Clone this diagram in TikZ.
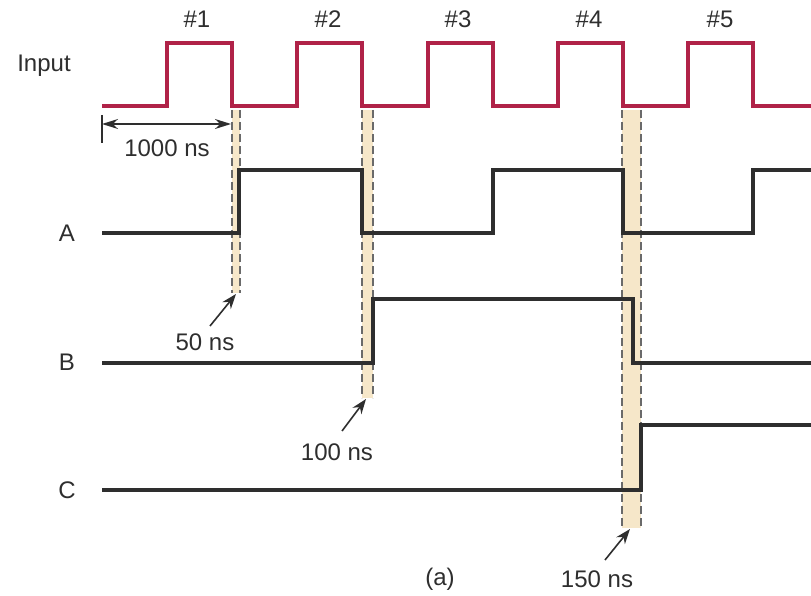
\documentclass[tikz,border=0pt]{standalone}
\usepackage{fontspec}
\setmainfont{Liberation Sans}
\usetikzlibrary{arrows.meta}
\definecolor{inred}{HTML}{B02248}
\definecolor{band}{HTML}{F6E7C9}
\definecolor{wave}{HTML}{2E2E2E}
\definecolor{dash}{HTML}{6A6A6A}
\begin{document}
\begin{tikzpicture}[x=1pt,y=-1pt,
  lbl/.style={font=\fontsize{24}{26}\selectfont, text=wave, inner sep=0pt},
  inwave/.style={draw=inred, line width=3.4pt, line join=miter},
  sig/.style={draw=wave, line width=3.2pt, line join=miter},
  bandfill/.style={fill=band, draw=none},
  edge/.style={draw=dash, line width=1.3pt, dash pattern=on 8pt off 4pt},
  ptr/.style={draw=wave, line width=1.6pt, -{Stealth[length=15pt,width=11pt]}},
  dim/.style={draw=wave, line width=1.6pt, {Stealth[length=16pt,width=10pt]}-{Stealth[length=16pt,width=10pt]}}]
\useasboundingbox (0,0) rectangle (811,596);
% bands
\fill[bandfill] (232,110) rectangle (240,293);
\fill[bandfill] (362,110) rectangle (373,398);
\fill[bandfill] (622,110) rectangle (641,528);
\draw[edge] (232,110) -- (232,293);
\draw[edge] (240,110) -- (240,293);
\draw[edge] (362,110) -- (362,398);
\draw[edge] (373,110) -- (373,398);
\draw[edge] (622,110) -- (622,528);
\draw[edge] (641,110) -- (641,528);
% input
\draw[inwave] (102,106) -- (167,106) -- (167,43) -- (232,43) -- (232,106)
  -- (297,106) -- (297,43) -- (362,43) -- (362,106)
  -- (428,106) -- (428,43) -- (493,43) -- (493,106)
  -- (558,106) -- (558,43) -- (623,43) -- (623,106)
  -- (688,106) -- (688,43) -- (753,43) -- (753,106) -- (811,106);
% A
\draw[sig] (102,233) -- (239,233) -- (239,170) -- (362,170) -- (362,233)
  -- (493,233) -- (493,170) -- (623,170) -- (623,233)
  -- (753,233) -- (753,170) -- (811,170);
% B
\draw[sig] (102,363) -- (373,363) -- (373,299) -- (633,299) -- (633,363) -- (811,363);
% C
\draw[sig] (102,490) -- (641,490) -- (641,425) -- (811,425);
% labels
\node[lbl] (lin) at (44,66) {Input};
\node[lbl] (la) at (67,233) {A};
\node[lbl] (lb) at (67,362) {B};
\node[lbl] (lc) at (67,490) {C};
\node[lbl] (p1) at (197,19) {\#1};
\node[lbl] (p2) at (328,19) {\#2};
\node[lbl] (p3) at (458,19) {\#3};
\node[lbl] (p4) at (589,19) {\#4};
\node[lbl] (p5) at (720,19) {\#5};
\node[lbl] (cap) at (440,579) {(a)};
% 1000 ns
\coordinate (t0) at (102,115);
\coordinate (t1) at (102,143);
\draw[wave, line width=1.6pt] (t0) -- (t1);
\coordinate (d0) at (102,124);
\coordinate (d1) at (231,124);
\draw[dim] (d0) -- (d1);
\node[lbl] (n1000) at (167,148) {1000 ns};
% delay pointers
\node[lbl] (n50) at (205,342) {50 ns};
\coordinate (e50) at (236,294);
\draw[ptr] (210,326) -- (e50);
\node[lbl] (n100) at (337,452) {100 ns};
\coordinate (e100) at (366,399);
\draw[ptr] (342,431) -- (e100);
\node[lbl] (n150) at (597,579) {150 ns};
\coordinate (e150) at (630,529);
\draw[ptr] (605,560) -- (e150);
\end{tikzpicture}
\end{document}
